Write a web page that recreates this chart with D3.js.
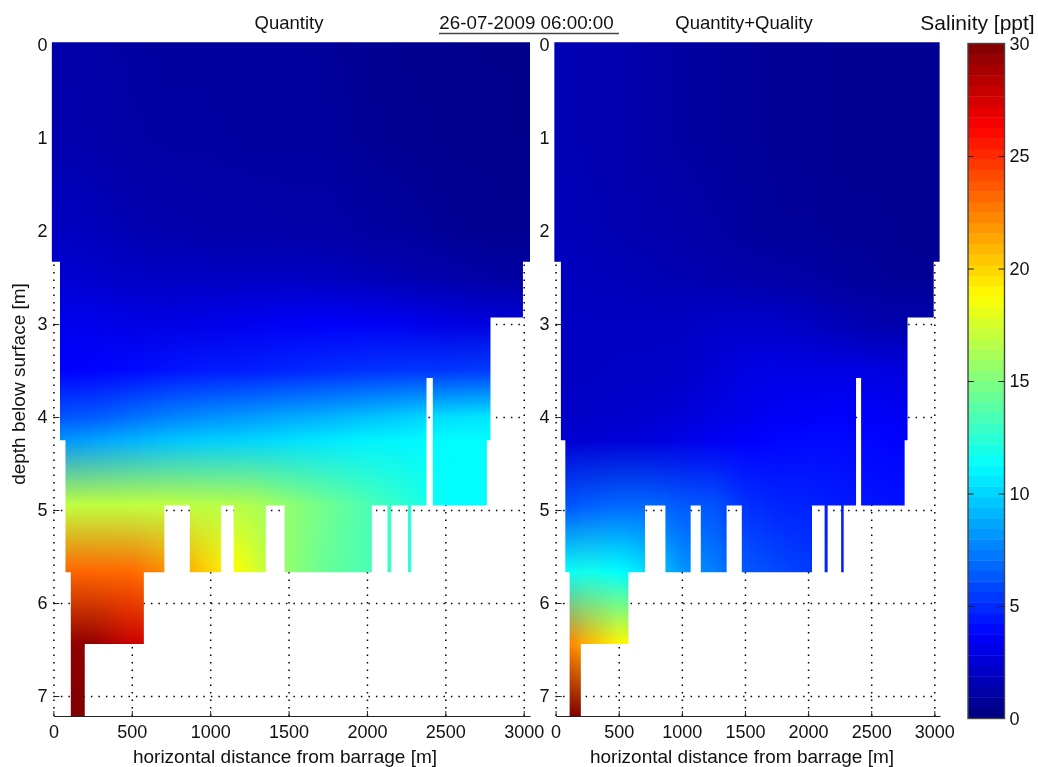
<!DOCTYPE html>
<html><head><meta charset="utf-8">
<script src="https://cdnjs.cloudflare.com/ajax/libs/d3/7.9.0/d3.min.js"></script>
<style>
html,body{margin:0;padding:0;background:#fff}
svg{display:block;filter:blur(0.45px)}
text{font-family:"Liberation Sans",Arial,sans-serif;fill:#111}
</style></head><body>
<svg id="c" width="1038" height="767"></svg>
<script>
// ---- data ----
const distanceNodes = [0,250,500,750,1000,1250,1500,1750,2000,2250,2500,2750,3000,3050];
const depthNodes = [0,1,2,2.5,3,3.5,4,4.25,4.95,5.67,6.44,7.22];

const salinityQuantity = [
 [1.3,1.2,1.0,0.9,0.9,0.9,0.9,0.8,0.6,0.5,0.5,0.4,0.4,0.4],
 [1.4,1.3,1.1,1.0,1.0,0.9,0.9,0.9,0.7,0.6,0.5,0.5,0.4,0.4],
 [2.0,1.8,1.5,1.4,1.3,1.3,1.2,1.2,1.0,0.9,0.7,0.6,0.6,0.6],
 [2.5,2.3,2.1,2.0,2.0,2.0,2.0,1.9,1.7,1.5,1.3,1.1,1.0,1.0],
 [3.3,3.2,3.0,3.0,3.1,3.3,3.5,3.6,3.5,3.3,3.0,2.8,2.6,2.6],
 [3.7,3.8,4.0,4.3,4.5,4.6,4.8,5.0,5.2,5.3,5.3,5.5,5.5,5.5],
 [6.2,6.4,7.0,7.6,8.0,8.3,8.7,9.0,9.4,9.8,10.3,10.5,10.5,10.5],
 [8.0,8.5,9.0,9.5,9.8,10.0,10.3,10.6,10.9,11.0,11.2,11.2,11.2,11.2],
 [16.9,16.9,16.9,16.9,16.7,16.5,15.5,14.5,13.5,12.5,11.3,11.2,11.2,11.2],
 [23.3,23.3,23.2,22.0,20.0,18.0,15.5,14.2,13.5,12.5,12.0,12.0,12.0,12.0],
 [29.7,29.4,27.8,27.5,27.5,27.5,27.5,27.5,27.5,27.5,27.5,27.5,27.5,27.5],
 [30,30,30,30,30,30,30,30,30,30,30,30,30,30]
];
const salinityQuantityQuality = [
 [1.6,1.5,1.4,1.2,1.0,0.9,0.8,0.7,0.7,0.6,0.6,0.6,0.6,0.6],
 [1.6,1.5,1.4,1.2,1.0,0.9,0.8,0.7,0.7,0.6,0.6,0.6,0.6,0.6],
 [1.8,1.6,1.5,1.4,1.3,1.1,0.9,0.8,0.8,0.7,0.7,0.6,0.6,0.6],
 [1.9,1.8,1.7,1.6,1.5,1.4,1.3,1.2,1.1,0.9,0.8,0.7,0.7,0.7],
 [2.0,2.0,2.0,2.0,2.0,2.2,2.3,2.2,2.0,1.7,1.4,1.3,1.3,1.3],
 [2.0,2.0,2.1,2.1,2.2,2.5,2.9,3.0,3.0,3.0,2.9,2.8,2.8,2.8],
 [2.2,2.2,2.3,2.4,2.6,2.9,3.2,3.5,3.6,3.7,3.6,3.5,3.5,3.5],
 [2.5,2.5,2.6,2.7,3.0,3.4,3.7,3.9,4.0,4.0,3.9,3.8,3.8,3.8],
 [6.0,6.5,6.8,6.8,6.4,6.2,5.2,4.8,4.7,4.5,4.3,4.2,4.2,4.2],
 [11.3,11.8,11.3,10.2,8.2,7.5,6.4,5.9,5.5,4.5,4.5,4.5,4.5,4.5],
 [23.5,21,19,19,19,19,19,19,19,19,19,19,19,19],
 [30,30,30,30,30,30,30,30,30,30,30,30,30,30]
];
// wet cross-section: [top depth, bottom depth, [[from,to],...]]
const wetSection = [
 [-0.03,2.33,[[-10,3042]]],
 [2.33,2.93,[[42,2995]]],
 [2.93,3.58,[[42,2788]]],
 [3.58,4.25,[[42,2380],[2420,2788]]],
 [4.25,4.95,[[77,2380],[2420,2765]]],
 [4.95,5.67,[[77,708],[870,1070],[1150,1355],[1475,2031],[2131,2155],[2262,2282]]],
 [5.67,6.44,[[111,577]]],
 [6.44,7.22,[[111,200]]]
];
const distanceTicks = [0,500,1000,1500,2000,2500,3000];
const depthTicks = [0,1,2,3,4,5,6,7];
const colorbarTicks = [0,5,10,15,20,25,30];
const jetStops = [0,3.75,11.25,18.75,26.25,30];
const jetColors = ["#00007f","#0000ff","#00ffff","#ffff00","#ff0000","#7f0000"];
const panelTitles = ["Quantity","Quantity+Quality"];
const dateTitle = "26-07-2009 06:00:00";
const colorbarTitle = "Salinity [ppt]";
const xTitle = "horizontal distance from barrage [m]";
const yTitle = "depth below surface [m]";

// ---- drawing ----
const svg = d3.select("#c");
const defs = svg.append("defs");
const jet = d3.scaleLinear().domain(jetStops).range(jetColors).interpolate(d3.interpolateRgb);
const y = d3.scaleLinear().domain([-0.03,7.215]).range([42.3,716]);

const panels = [
 {title:panelTitles[0], data:salinityQuantity, px:[53.4,530], dmax:3040, titleX:289, labelX:285, id:"a"},
 {title:panelTitles[1], data:salinityQuantityQuality, px:[555.6,940], dmax:3045, titleX:744, labelX:742, id:"b"}
];

panels.forEach(p=>{
  const x = d3.scaleLinear().domain([0,p.dmax]).range(p.px);
  const g = svg.append("g");
  const y0=y.range()[0], y1=y.range()[1];
  // grid below the field
  g.append("g").attr("transform",`translate(0,${y1})`)
    .call(d3.axisBottom(x).tickValues(distanceTicks).tickSize(-(y1-y0)).tickFormat(""))
    .call(s=>{s.select(".domain").remove();
      s.selectAll("line").attr("stroke","#000").attr("stroke-width",1.5).attr("stroke-dasharray","1.5 6");});
  g.append("g").attr("transform",`translate(${p.px[0]},0)`)
    .call(d3.axisRight(y).tickValues(depthTicks).tickSize(x(3000)-p.px[0]).tickFormat(""))
    .call(s=>{s.select(".domain").remove();
      s.selectAll("line").attr("stroke","#000").attr("stroke-width",1.5).attr("stroke-dasharray","1.5 6");});
  // tick marks
  g.append("g").attr("transform",`translate(${p.px[0]},0)`)
    .call(d3.axisRight(y).tickValues(depthTicks).tickSize(6).tickFormat(""))
    .call(s=>{s.select(".domain").remove();s.selectAll("line").attr("stroke","#222");});

  // wet-section clip
  const clip = defs.append("clipPath").attr("id","clip"+p.id);
  wetSection.forEach(([t,b,spans])=>spans.forEach(([a,c])=>{
    clip.append("rect").attr("x",x(a)).attr("width",x(Math.min(c,p.dmax))-x(a))
      .attr("y",y(t)).attr("height",y(b)-y(t));
  }));
  // one vertical-gradient strip per 2px of distance
  const rowScales = p.data.map(r=>d3.scaleLinear().domain(distanceNodes).range(r).clamp(true));
  const field = g.append("g").attr("clip-path",`url(#clip${p.id})`);
  const strips = d3.range(Math.floor(p.px[0])-2,Math.ceil(p.px[1]),2);
  strips.forEach((sx,i)=>{
    const dist = x.invert(sx+1);
    const gid = `g${p.id}${i}`;
    const lg = defs.append("linearGradient").attr("id",gid)
      .attr("gradientUnits","userSpaceOnUse").attr("x1",0).attr("x2",0)
      .attr("y1",y(depthNodes[0])).attr("y2",y(depthNodes[depthNodes.length-1]));
    const span = y(depthNodes[depthNodes.length-1])-y(depthNodes[0]);
    depthNodes.forEach((d,j)=>{
      lg.append("stop").attr("offset",(y(d)-y(depthNodes[0]))/span)
        .attr("stop-color",jet(rowScales[j](dist)));
    });
    field.append("rect").attr("x",sx).attr("width",2.02).attr("y",y0).attr("height",y1-y0)
      .attr("fill",`url(#${gid})`).attr("shape-rendering","crispEdges");
  });

  // x axis on top of the field
  g.append("g").attr("transform",`translate(0,${y1})`)
    .call(d3.axisBottom(x).tickValues(distanceTicks).tickFormat(d3.format("d")).tickSizeInner(-5).tickSizeOuter(0).tickPadding(10))
    .call(s=>{
      s.select(".domain").attr("stroke","#222").attr("stroke-width",1.2);
      s.selectAll("line").attr("stroke","#222");
      s.selectAll("text").attr("font-size",18).attr("fill","#111").attr("font-family",'"Liberation Sans",Arial,sans-serif').attr("dy","0.71em").attr("y",9);
    });
  // y labels
  g.append("g").attr("transform",`translate(${p.px[0]},0)`)
    .call(d3.axisLeft(y).tickValues(depthTicks).tickSize(0).tickPadding(6))
    .call(s=>{
      s.select(".domain").remove();
      s.selectAll("text").attr("font-size",18).attr("fill","#111").attr("font-family",'"Liberation Sans",Arial,sans-serif');
    });
  svg.append("text").attr("x",p.titleX).attr("y",29).attr("text-anchor","middle").attr("font-size",18.5).text(p.title);
  svg.append("text").attr("x",p.labelX).attr("y",763).attr("text-anchor","middle").attr("font-size",19).text(xTitle);
});

svg.append("text").attr("transform","translate(24.5,384) rotate(-90)")
  .attr("text-anchor","middle").attr("font-size",19).text(yTitle);
svg.append("text").attr("x",526.5).attr("y",29).attr("text-anchor","middle").attr("font-size",18.8).text(dateTitle);
svg.append("line").attr("x1",439).attr("x2",619).attr("y1",33.5).attr("y2",33.5)
  .attr("stroke","#444").attr("stroke-width",1.6);

// colour bar: 64 jet levels
const cb = {x0:968,x1:1004.5,y0:43.5,y1:718.5};
const yc = d3.scaleLinear().domain([0,30]).range([cb.y1,cb.y0]);
const levels = d3.range(64);
svg.append("g").selectAll("rect").data(levels).join("rect")
  .attr("x",cb.x0).attr("width",cb.x1-cb.x0)
  .attr("y",d=>yc((d+1)*30/64)).attr("height",d=>yc(d*30/64)-yc((d+1)*30/64)+0.4)
  .attr("fill",d=>jet((d+0.5)*30/64));
svg.append("rect").attr("x",cb.x0).attr("y",cb.y0).attr("width",cb.x1-cb.x0).attr("height",cb.y1-cb.y0)
  .attr("fill","none").attr("stroke","#444").attr("stroke-width",1.4);
svg.append("g").attr("transform",`translate(${cb.x1},0)`)
  .call(d3.axisRight(yc).tickValues(colorbarTicks).tickSize(0).tickPadding(5))
  .call(s=>{s.select(".domain").remove();
    s.selectAll("text").attr("font-size",18).attr("fill","#111").attr("font-family",'"Liberation Sans",Arial,sans-serif');});
svg.append("g").attr("transform",`translate(${cb.x0},0)`)
  .call(d3.axisRight(yc).tickValues(colorbarTicks.slice(1,-1)).tickSize(6).tickFormat(""))
  .call(s=>{s.select(".domain").remove();s.selectAll("line").attr("stroke","#222");});
svg.append("g").attr("transform",`translate(${cb.x1},0)`)
  .call(d3.axisLeft(yc).tickValues(colorbarTicks.slice(1,-1)).tickSize(6).tickFormat(""))
  .call(s=>{s.select(".domain").remove();s.selectAll("line").attr("stroke","#222");});
svg.append("text").attr("x",977.5).attr("y",30).attr("text-anchor","middle").attr("font-size",21).text(colorbarTitle);
</script>
</body></html>
